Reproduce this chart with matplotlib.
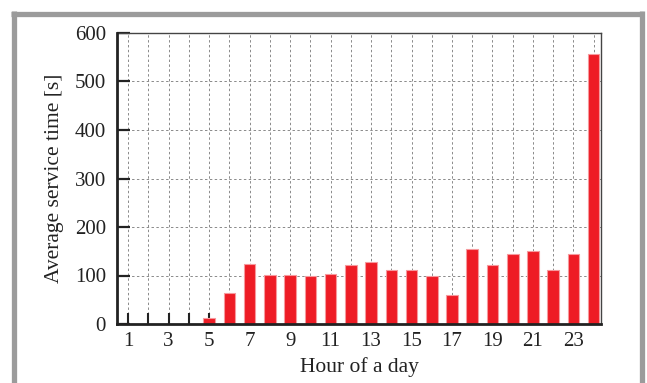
import matplotlib
matplotlib.use("Agg")
import matplotlib.pyplot as plt
from matplotlib.lines import Line2D
import numpy as np

# Average service time per hour of the day
hours = list(range(1, 25))
service_time = [0, 0, 0, 0, 13, 64, 124, 101, 102, 99, 103, 122,
                128, 111, 112, 98, 60, 154, 121, 144, 150, 111, 144, 556]
xtick_labels = [str(h) if h % 2 == 1 else "" for h in hours]
yticks = [0, 100, 200, 300, 400, 500, 600]

plt.rcParams["font.family"] = ["Liberation Serif", "DejaVu Serif"]

W, H = 647, 383
fig = plt.figure(figsize=(W / 100, H / 100), dpi=100)

# grey frame around the figure
frame_kw = dict(color="#9b9b9b", linewidth=3.8, transform=None, solid_capstyle="butt")
def px(x, y):
    return x, H - y
for (x0, y0), (x1, y1) in [((11, 13.5), (643, 13.5)),
                           ((13.5, 11), (13.5, 383)),
                           ((641.5, 11), (641.5, 383))]:
    a, b = px(x0, y0)
    c, d = px(x1, y1)
    fig.add_artist(Line2D([a, c], [b, d], **frame_kw))

ax = fig.add_axes([117 / W, (H - 324) / H, 484 / W, 291 / H])

ax.bar(hours, service_time, width=0.57, color="#ee1c25",
       edgecolor="#f6999d", linewidth=0.8, zorder=3)

ax.set_xlim(0.45, 24.36)
ax.set_ylim(0, 600)
ax.set_xticks(hours)
ax.set_xticklabels(xtick_labels)
ax.set_yticks(yticks)

ax.grid(True, linestyle=(0, (2.5, 2.5)), color="#8a8a8a", linewidth=0.7, zorder=0)
ax.set_axisbelow(True)

ax.tick_params(axis="y", direction="in", length=9, width=1.6, pad=8,
               labelsize=15, colors="#222222")
ax.tick_params(axis="x", direction="in", length=8, width=1.5, pad=6,
               labelsize=15, colors="#222222")
for t in ax.get_xticklines() + ax.get_yticklines():
    t.set_zorder(4)

for side in ("left", "bottom"):
    ax.spines[side].set_linewidth(2.0)
    ax.spines[side].set_color("#222222")
    ax.spines[side].set_zorder(5)
for side in ("top", "right"):
    ax.spines[side].set_linewidth(1.0)
    ax.spines[side].set_color("#444444")

ax.set_xlabel("Hour of a day", fontsize=15.5, labelpad=4, color="#222222")
ax.set_ylabel("Average service time [s]", fontsize=15.5, labelpad=8, color="#222222")

fig.savefig("out.png", dpi=100)
